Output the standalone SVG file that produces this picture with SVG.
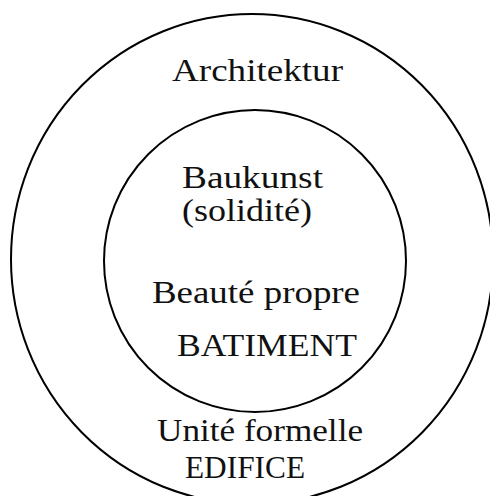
<svg xmlns="http://www.w3.org/2000/svg" width="490" height="496" viewBox="0 0 490 496">
<style>
.ring{fill:none;stroke:#000;stroke-width:2}
.t{font-family:"Liberation Serif","Times New Roman",serif;font-size:32px;fill:#111}
</style>
<rect width="490" height="496" fill="#fff"/>
<g id="outer">
<ellipse class="ring" cx="252" cy="259" rx="241" ry="245"/>
<text class="t" x="172" y="81" textLength="171" lengthAdjust="spacingAndGlyphs">Architektur</text>
<text class="t" x="157" y="441" textLength="206" lengthAdjust="spacingAndGlyphs">Unité formelle</text>
<text class="t" x="185" y="478" textLength="120" lengthAdjust="spacingAndGlyphs">EDIFICE</text>
</g>
<g id="inner">
<circle class="ring" cx="255" cy="261" r="151"/>
<text class="t" x="182" y="188" textLength="141" lengthAdjust="spacingAndGlyphs">Baukunst</text>
<text class="t" x="182" y="221" textLength="130" lengthAdjust="spacingAndGlyphs">(solidité)</text>
<text class="t" x="152" y="303" textLength="208" lengthAdjust="spacingAndGlyphs">Beauté propre</text>
<text class="t" x="177" y="356" textLength="180" lengthAdjust="spacingAndGlyphs">BATIMENT</text>
</g>
<g id="connectors"></g>
</svg>
